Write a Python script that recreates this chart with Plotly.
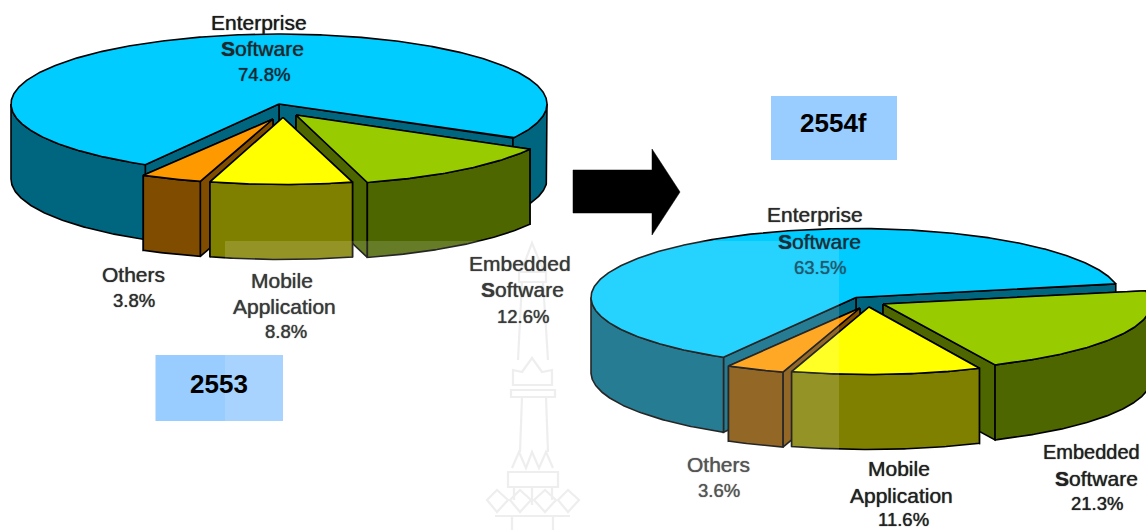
import numpy as np
import plotly.graph_objects as go

# Software market share by segment, in percent
segments = ["Enterprise Software", "Embedded Software", "Mobile Application", "Others"]
shares_2553 = [74.8, 12.6, 8.8, 3.8]
shares_2554 = [63.5, 21.3, 11.6, 3.6]
year_labels = ["2553", "2554f"]

top_colors = ["#00ccff", "#99cc00", "#ffff00", "#ff9900"]
side_colors = ["#006680", "#4d6600", "#808000", "#804d00"]

DEPTH = 75
W, H = 1146, 530

# Placement of each exploded slice: tip position and ellipse radii on the page
left_pie = dict(start=-29.2, slices=[
    dict(tip=(279, 104), rx=268, ry=70),
    dict(tip=(296, 115), rx=268, ry=70),
    dict(tip=(283, 117.5), rx=261, ry=67),
    dict(tip=(273, 119), rx=260, ry=65),
])
right_pie = dict(start=11.4, slices=[
    dict(tip=(856, 297.5), rx=265, ry=69),
    dict(tip=(883, 304), rx=268, ry=67),
    dict(tip=(869, 307), rx=264, ry=67.5),
    dict(tip=(860, 308), rx=263, ry=67),
])


def rim(spec, a, b, drop=0):
    t = np.radians(np.linspace(a, b, max(int(abs(b - a)) * 2, 12)))
    cx, cy = spec["tip"]
    return cx + spec["rx"] * np.cos(t), cy - spec["ry"] * np.sin(t) + drop


def poly(fig, x, y, color):
    fig.add_trace(go.Scatter(
        x=np.append(x, x[0]), y=np.append(y, y[0]), mode="lines", fill="toself",
        fillcolor=color, line=dict(color="#000000", width=1.6),
        hoverinfo="skip", showlegend=False,
    ))


def radial_face(fig, spec, angle, color):
    cx, cy = spec["tip"]
    rx_pt, ry_pt = rim(spec, angle, angle + 1e-6)
    px, py = rx_pt[0], ry_pt[0]
    poly(fig, np.array([cx, px, px, cx]), np.array([cy, py, py + DEPTH, cy + DEPTH]), color)


def draw_slice(fig, spec, a, b, top, side):
    # Radial cut faces, the one further back first
    for angle in sorted((a, b), key=lambda d: -np.sin(np.radians(d))):
        radial_face(fig, spec, angle, side)
    # Outer wall only where the rim faces the viewer
    for k in (-1, 0, 1):
        lo, hi = max(a, 360 * k + 180), min(b, 360 * k + 360)
        if lo < hi:
            ux, uy = rim(spec, lo, hi)
            lx, ly = rim(spec, lo, hi, DEPTH)
            poly(fig, np.concatenate([ux, lx[::-1]]), np.concatenate([uy, ly[::-1]]), side)
    ax, ay = rim(spec, a, b)
    cx, cy = spec["tip"]
    poly(fig, np.concatenate([[cx], ax]), np.concatenate([[cy], ay]), top)


def draw_pie(fig, pie, shares):
    # Enterprise runs counter-clockwise from the start angle, the rest clockwise from it
    spans = np.array(shares) / sum(shares) * 360
    start = pie["start"]
    ranges = [(start, start + spans[0])]
    cursor = start
    for sp in spans[1:]:
        ranges.append((cursor - sp, cursor))
        cursor -= sp
    for i in (0, 1, 3, 2):
        a, b = ranges[i]
        draw_slice(fig, pie["slices"][i], a, b, top_colors[i], side_colors[i])


fig = go.Figure()
draw_pie(fig, left_pie, shares_2553)
draw_pie(fig, right_pie, shares_2554)

# Arrow between the two years
fig.add_trace(go.Scatter(
    x=[573, 652, 652, 680, 652, 652, 573, 573],
    y=[170, 170, 149, 192, 235, 213, 213, 170],
    mode="lines", fill="toself", fillcolor="#000000", line=dict(color="#000000", width=0.5),
    hoverinfo="skip", showlegend=False,
))

shapes = []

# Pale emblem printed behind the content
emblem_paths = [
    "M521,272 L532,243 L544,272 Z", "M519,272 H546 V282 H519 Z", "M522,282 L518,360", "M543,282 L548,360",
    "M513,370 L522,372 L532,358 L542,372 L552,370 L552,385 H513 Z", "M511,390 H555 V397 H511 Z",
    "M522,397 L520,452", "M546,397 L548,452",
    "M512,468 L519,452 L526,468 L532,452 L539,468 L546,452 L553,468", "M508,472 H558 V487 H508 Z",
    "M514,487 V500", "M532,487 V505", "M552,487 V500",
    "M487,500 L497,490 L508,500 L497,512 Z", "M510,500 L520,490 L531,500 L520,512 Z",
    "M534,500 L545,490 L556,500 L545,512 Z", "M558,500 L568,490 L579,500 L568,512 Z",
    "M495,516 H570", "M512,516 V530", "M553,516 V530",
]
for d in emblem_paths:
    shapes.append(dict(type="path", path=d, layer="below", line=dict(color="#ececec", width=2.2)))

# Year boxes
shapes.append(dict(type="rect", x0=155.5, x1=283, y0=355, y1=421, fillcolor="#99ccff",
                   line=dict(width=0), layer="below"))
shapes.append(dict(type="rect", x0=771, x1=897, y0=96, y1=160, fillcolor="#99ccff",
                   line=dict(width=0), layer="below"))
# White sheet laid over the middle of the page
shapes.append(dict(type="rect", x0=225, x1=839, y0=241, y1=530, fillcolor="#ffffff", opacity=0.15,
                   line=dict(width=0), layer="above"))


def pct(v):
    return f"{v}%"


WORD, NUM = 21, 18.5
text_items = [
    ("Enterprise", 259, 22, "#1c1c1c", WORD), ("<b>S</b>oftware", 262, 48, "#1c2a30", WORD), (pct(shares_2553[0]), 264, 74, "#0c2a38", NUM),
    ("Others", 133, 274, "#2e2e2e", WORD), (pct(shares_2553[3]), 134, 300, "#2e2e2e", NUM),
    ("Mobile", 282, 280, "#3a3a3a", WORD), ("Application", 284, 306, "#3a3a3a", WORD), (pct(shares_2553[2]), 286, 331, "#3a3a3a", NUM),
    ("Embedded", 520, 263, "#3a3a3a", WORD), ("<b>S</b>oftware", 522, 289, "#3a3a3a", WORD), (pct(shares_2553[1]), 523, 316, "#3a3a3a", NUM),
    ("Enterprise", 815, 214, "#2a2a2a", WORD), ("<b>S</b>oftware", 819, 241, "#14303c", WORD), (pct(shares_2554[0]), 820, 267, "#1f5a70", NUM),
    ("Others", 718, 464, "#555555", WORD), (pct(shares_2554[3]), 719, 490, "#555555", NUM),
    ("Mobile", 899, 468, "#222222", WORD), ("Application", 901, 495, "#222222", WORD), (pct(shares_2554[2]), 903, 519, "#222222", NUM),
    ("Embedded", 1091, 452, "#222222", 20), ("<b>S</b>oftware", 1096, 478, "#222222", WORD), (pct(shares_2554[1]), 1097, 503, "#222222", NUM),
]
annotations = [
    dict(x=x, y=y, text=t, xref="x", yref="y", showarrow=False, xanchor="center", yanchor="middle",
         font=dict(family="Liberation Sans", size=s, color=c, shadow=f"0 0 1px {c}"))
    for t, x, y, c, s in text_items
]
annotations.append(dict(x=219, y=384, text=f"<b>{year_labels[0]}</b>", xref="x", yref="y", showarrow=False,
                        font=dict(family="Liberation Sans", size=26, color="#000000")))
annotations.append(dict(x=833, y=123, text=f"<b>{year_labels[1]}</b>", xref="x", yref="y", showarrow=False,
                        font=dict(family="Liberation Sans", size=26, color="#000000")))

fig.update_layout(
    width=W, height=H, margin=dict(l=0, r=0, t=0, b=0),
    paper_bgcolor="#ffffff", plot_bgcolor="#ffffff", showlegend=False,
    xaxis=dict(range=[0, W], visible=False, fixedrange=True),
    yaxis=dict(range=[H, 0], visible=False, fixedrange=True),
    shapes=shapes, annotations=annotations,
)
fig.write_html("out.html")
